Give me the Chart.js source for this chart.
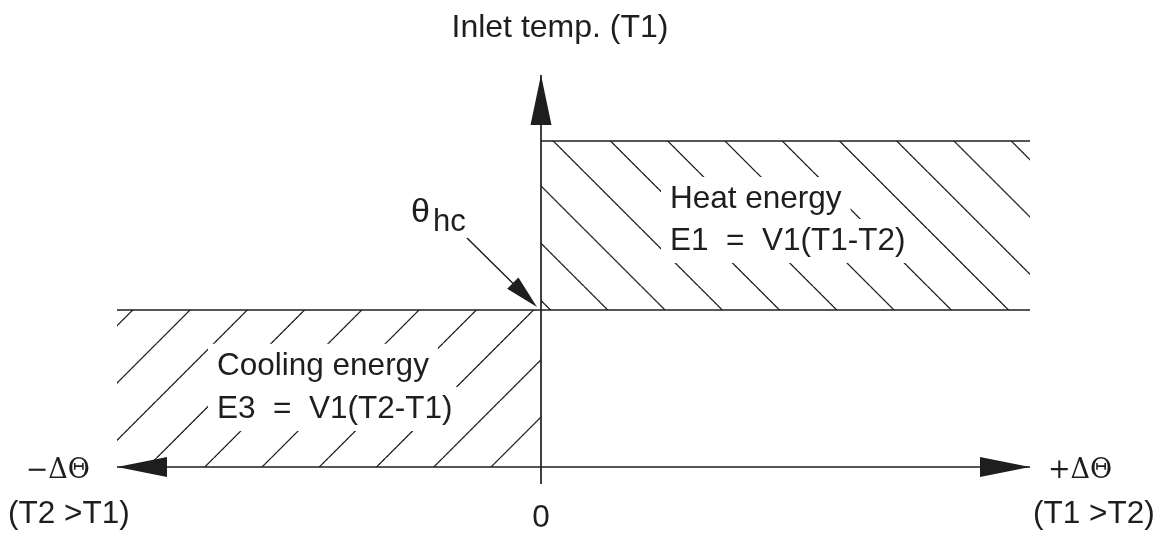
<!DOCTYPE html>
<html>
<head>
<meta charset="utf-8">
<script src="https://cdn.jsdelivr.net/npm/chart.js@4/dist/chart.umd.min.js"></script>
<style>body{margin:0;background:#fff}</style>
</head>
<body>
<canvas id="myChart" width="1158" height="533"></canvas>
<script>
// 軸の範囲 (横: ΔΘ, 縦: Inlet temp.)
const deltaTheta = [-424, 489];
const inletAxis = [-17, 392];
const thetaHc = 157;
const inletT1 = 326;
const tickLabels = ['\u2212\u0394\u0398', '0', '+\u0394\u0398'];
const tickNotes = ['(T2 >T1)', '', '(T1 >T2)'];
const heatLabel = ['Heat energy', 'E1  =  V1(T1-T2)'];
const coolLabel = ['Cooling energy', 'E3  =  V1(T2-T1)'];
const axisTitle = 'Inlet temp. (T1)';

const ink = '#1e1e1e';
const sans = '"Liberation Sans", Arial, sans-serif';
const serif = '"DejaVu Serif", "Liberation Serif", serif';

let canvas = document.getElementById('myChart');
let ctx = canvas.getContext('2d');

// 斜線パターン
function hatch(dir, offset) {
	const T = 100, sc = 57.25 / T;
	const tile = document.createElement('canvas');
	tile.width = T; tile.height = T;
	const t = tile.getContext('2d');
	t.strokeStyle = ink;
	t.lineWidth = 1.3 / sc;
	t.beginPath();
	for (let k = -1; k <= 2; k++) {
		t.moveTo(k * T, 0);
		t.lineTo(k * T + dir * T, T);
	}
	t.stroke();
	const p = ctx.createPattern(tile, 'repeat');
	p.setTransform(new DOMMatrix().translate(offset, 0).scale(sc));
	return p;
}

function arrowHead(c, tx, ty, ang, len, half) {
	const bx = tx - Math.cos(ang) * len, by = ty - Math.sin(ang) * len;
	const nx = -Math.sin(ang) * half, ny = Math.cos(ang) * half;
	c.beginPath();
	c.moveTo(tx, ty);
	c.lineTo(bx + nx, by + ny);
	c.lineTo(bx - nx, by - ny);
	c.closePath();
	c.fill();
}

function boxedText(c, lines, left, base, lead) {
	lines.forEach((s, i) => {
		const w = c.measureText(s).width;
		c.fillStyle = '#fff';
		c.fillRect(left - 9, base + i * lead - 31, w + 18, 44);
	});
	c.fillStyle = ink;
	lines.forEach((s, i) => c.fillText(s, left, base + i * lead));
}

const drawing = {
	id: 'drawing',
	afterDatasetsDraw(chart) {
		const c = chart.ctx;
		const x = chart.scales.x, y = chart.scales.y;
		const ox = x.getPixelForValue(0), oy = y.getPixelForValue(0);
		const hcY = y.getPixelForValue(thetaHc), t1Y = y.getPixelForValue(inletT1);
		const xl = x.getPixelForValue(deltaTheta[0]), xr = x.getPixelForValue(deltaTheta[1]);
		const yt = y.getPixelForValue(inletAxis[1]);
		c.save();
		c.fillStyle = ink;
		c.strokeStyle = ink;
		// 矢印
		arrowHead(c, ox, yt, -Math.PI / 2, 50, 10.5);
		arrowHead(c, xr, oy, 0, 50, 10);
		arrowHead(c, xl, oy, Math.PI, 50, 10);
		// θhc の矢印
		const tx = ox - 4, ty = hcY - 3;
		const ang = Math.atan2(69, 70);
		c.lineWidth = 1.5;
		c.beginPath();
		c.moveTo(tx - 70, ty - 69);
		c.lineTo(tx - Math.cos(ang) * 30, ty - Math.sin(ang) * 30);
		c.stroke();
		arrowHead(c, tx, ty, ang, 34, 8);

		c.textBaseline = 'alphabetic';
		c.font = '31.5px ' + sans;
		c.textAlign = 'left';
		boxedText(c, heatLabel, ox + 129, t1Y + 67, 42);
		boxedText(c, coolLabel, ox - 324, hcY + 65, 43);

		c.fillStyle = ink;
		c.font = '32px ' + sans;
		c.textAlign = 'center';
		c.fillText(axisTitle, ox + 19, 37);

		// θhc
		c.textAlign = 'left';
		c.font = '34px ' + sans;
		c.fillText('\u03b8', ox - 130, hcY - 88);
		c.font = '31px ' + sans;
		c.fillText('hc', ox - 108, hcY - 79);

		// 目盛ラベル
		c.font = '31.5px ' + sans;
		c.textAlign = 'center';
		c.fillText(tickLabels[1], ox, oy + 60);
		c.textAlign = 'left';
		c.fillText(tickNotes[0], xl - 109, oy + 56);
		c.fillText(tickNotes[2], xr + 3, oy + 56);
		c.font = '27px ' + serif;
		c.textAlign = 'right';
		c.fillText(tickLabels[0], xl - 27, oy + 11);
		c.textAlign = 'left';
		c.fillText(tickLabels[2], xr + 18, oy + 11);
		c.restore();
	}
};

const line = (pts, extra) => Object.assign({
	data: pts,
	showLine: true,
	borderColor: ink,
	borderWidth: 1.5,
	pointRadius: 0,
	fill: false
}, extra || {});

new Chart(ctx, {
	type: 'scatter',
	data: {
		datasets: [
			line([{x: deltaTheta[0], y: 0}, {x: deltaTheta[1], y: 0}], {borderWidth: 1.7}),
			line([{x: 0, y: inletAxis[0]}, {x: 0, y: inletAxis[1]}], {borderWidth: 1.7}),
			line([{x: deltaTheta[0], y: thetaHc}, {x: deltaTheta[1], y: thetaHc}]),
			line([{x: 0, y: inletT1}, {x: deltaTheta[1], y: inletT1}],
				{fill: {value: thetaHc}, backgroundColor: hatch(1, 11.5)}),
			line([{x: deltaTheta[0], y: thetaHc}, {x: 0, y: thetaHc}],
				{fill: {value: 0}, backgroundColor: hatch(-1, 42), borderWidth: 0})
		]
	},
	options: {
		responsive: false,
		animation: false,
		devicePixelRatio: 1,
		layout: {padding: 0},
		plugins: {legend: {display: false}, tooltip: {enabled: false}},
		scales: {
			x: {type: 'linear', min: -541, max: 617, display: false},
			y: {type: 'linear', min: -66, max: 467, display: false}
		}
	},
	plugins: [drawing]
});
</script>
</body>
</html>
